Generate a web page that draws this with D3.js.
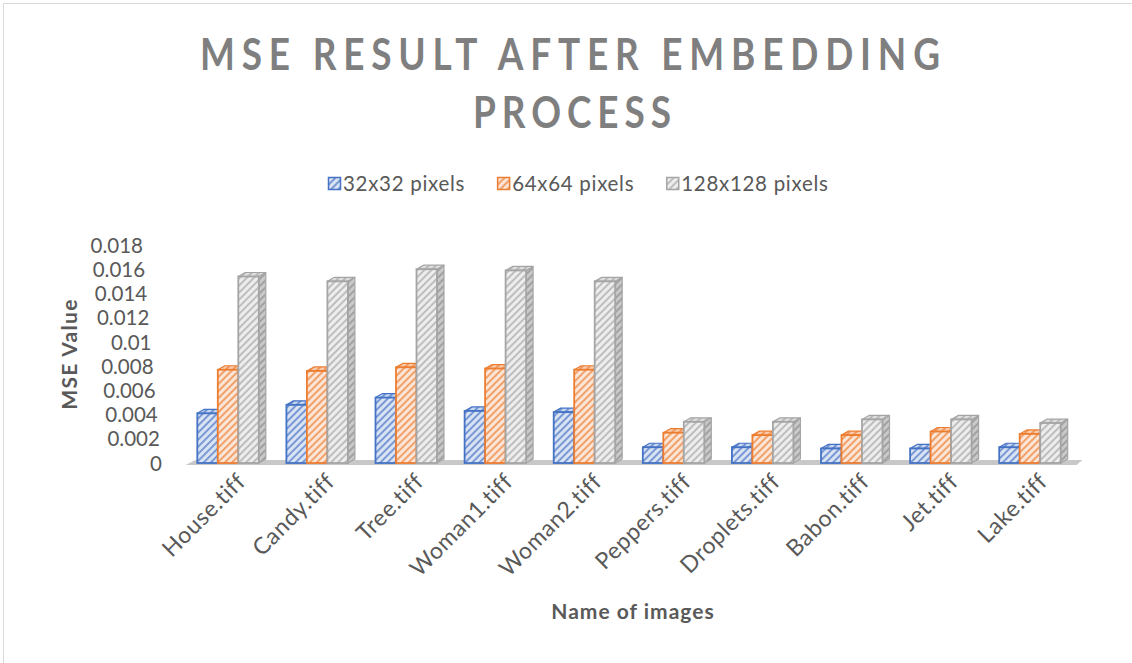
<!DOCTYPE html>
<html>
<head>
<meta charset="utf-8">
<script src="https://cdn.jsdelivr.net/npm/d3@7/dist/d3.min.js"></script>
<style>
  html, body { margin: 0; padding: 0; background: #ffffff; }
  svg { display: block; font-family: Lato, "Open Sans", sans-serif; }
</style>
</head>
<body>
<svg id="chart" width="1132" height="663"></svg>
<script>
// Image names along the category axis
const images = ["House.tiff", "Candy.tiff", "Tree.tiff", "Woman1.tiff", "Woman2.tiff",
                "Peppers.tiff", "Droplets.tiff", "Babon.tiff", "Jet.tiff", "Lake.tiff"];

// Series names
const seriesNames = ["32x32 pixels", "64x64 pixels", "128x128 pixels"];

// MSE values per payload size
const mse32  = [0.0041, 0.0048, 0.0054, 0.0043, 0.0042, 0.0013, 0.0013, 0.0012, 0.0012, 0.0013];
const mse64  = [0.0077, 0.0076, 0.0079, 0.0078, 0.0077, 0.0025, 0.0023, 0.0023, 0.0026, 0.0024];
const mse128 = [0.0154, 0.0150, 0.0160, 0.0159, 0.0150, 0.0034, 0.0034, 0.0036, 0.0036, 0.0033];

// Value axis ticks and their labels
const yTicks      = [0, 0.002, 0.004, 0.006, 0.008, 0.01, 0.012, 0.014, 0.016, 0.018];
const yTickLabels = ["0", "0.002", "0.004", "0.006", "0.008", "0.01", "0.012", "0.014", "0.016", "0.018"];

const titleLines = ["MSE RESULT AFTER EMBEDDING", "PROCESS"];
const yTitle = "MSE Value";
const xTitle = "Name of images";

// ---- styling ----
const palette = [
  { line: "#4472c4", bg: "#dae3f3", sideBg: "#9db4de", sideLine: "#2f5597", topBg: "#c9d7f0", topLine: "#4472c4" },
  { line: "#ed7d31", bg: "#fbe5d6", sideBg: "#f4b183", sideLine: "#c55a11", topBg: "#f8cbad", topLine: "#ed7d31" },
  { line: "#a5a5a5", bg: "#ededed", sideBg: "#c9c9c9", sideLine: "#8c8c8c", topBg: "#dedede", topLine: "#a5a5a5" }
];
const textColor = "#595959";

const svg = d3.select("#chart");
const W = 1132, H = 663;

// chart frame
svg.append("rect")
  .attr("x", 3.5).attr("y", 3.5).attr("width", W + 20).attr("height", H + 20)
  .attr("fill", "#ffffff").attr("stroke", "#d9d9d9").attr("stroke-width", 1);

// hatch patterns
const defs = svg.append("defs");
function hatch(id, bg, line, sw) {
  const p = defs.append("pattern")
    .attr("id", id)
    .attr("patternUnits", "userSpaceOnUse")
    .attr("width", 5).attr("height", 5)
    .attr("patternTransform", "rotate(45)");
  p.append("rect").attr("width", 5).attr("height", 5).attr("fill", bg);
  p.append("line").attr("x1", 1).attr("y1", 0).attr("x2", 1).attr("y2", 5)
    .attr("stroke", line).attr("stroke-width", sw);
}
palette.forEach((c, i) => {
  hatch("front" + i, c.bg, c.line, 1.3);
  hatch("side" + i, c.sideBg, c.sideLine, 1.3);
  hatch("top" + i, c.topBg, c.topLine, 1.3);
});

// ---- scales ----
const y = d3.scaleLinear().domain([0, 0.018]).range([463, 245]);
const x = d3.scaleBand().domain(images).range([183.5, 1074.5])
  .paddingInner(0.31).paddingOuter(0.155);
const xs = d3.scaleBand().domain(d3.range(seriesNames.length)).range([0, x.bandwidth()]);

// depth offset of the 3D boxes
const dx = 7, dy = -4;

// ---- floor ----
const base = y(0);
svg.append("polygon")
  .attr("points", [
    [x.range()[0] + 2, base + 2], [x.range()[1] + 2, base + 2],
    [x.range()[1] + 8, base - 3], [x.range()[0] + 12, base - 3]
  ].map(p => p.join(",")).join(" "))
  .attr("fill", "#c8c8c8");

// ---- bars ----
const seriesValues = [mse32, mse64, mse128];
const rows = [];
images.forEach((name, ci) => {
  seriesValues.forEach((vals, si) => rows.push({ name, si, v: vals[ci] }));
});

const bars = svg.append("g").selectAll("g.bar").data(rows).join("g").attr("class", "bar");

bars.each(function (d) {
  const g = d3.select(this);
  const x0 = x(d.name) + xs(d.si);
  const x1 = x0 + xs.bandwidth();
  const yt = y(d.v);
  const c = palette[d.si];
  // right side face
  g.append("polygon")
    .attr("points", [[x1, yt], [x1 + dx, yt + dy], [x1 + dx, base + dy], [x1, base]].map(p => p.join(",")).join(" "))
    .attr("fill", `url(#side${d.si})`).attr("stroke", c.line).attr("stroke-width", 1.2)
    .attr("stroke-linejoin", "round");
  // top face
  g.append("polygon")
    .attr("points", [[x0, yt], [x0 + dx, yt + dy], [x1 + dx, yt + dy], [x1, yt]].map(p => p.join(",")).join(" "))
    .attr("fill", `url(#top${d.si})`).attr("stroke", c.line).attr("stroke-width", 1.2)
    .attr("stroke-linejoin", "round");
  // front face
  g.append("rect")
    .attr("x", x0).attr("y", yt).attr("width", xs.bandwidth()).attr("height", base - yt)
    .attr("fill", `url(#front${d.si})`).attr("stroke", c.line).attr("stroke-width", 1.8);
});

// ---- value axis (labels drift right toward the floor) ----
const yAxis = d3.axisLeft(y)
  .tickValues(yTicks)
  .tickFormat((d, i) => yTickLabels[i])
  .tickSize(0);
const yAxisG = svg.append("g").call(yAxis);
yAxisG.select(".domain").remove();
yAxisG.selectAll("text")
  .attr("x", d => 143 + (y(d) - y(0.018)) * 19 / 218)
  .attr("dy", "0.35em")
  .attr("fill", textColor)
  .style("font-size", "20.5px")
  .style("font-family", "Lato, sans-serif");

// ---- category axis ----
const xAxis = d3.axisBottom(x).tickSize(0);
const xAxisG = svg.append("g").attr("transform", `translate(0,${base})`).call(xAxis);
xAxisG.select(".domain").remove();
xAxisG.selectAll("text")
  .attr("text-anchor", "end")
  .attr("fill", textColor)
  .style("font-size", "23px")
  .style("letter-spacing", "0.6px")
  .style("font-family", "Lato, sans-serif")
  .attr("y", 0).attr("dy", 0)
  .attr("transform", "translate(19,20) rotate(-45)");

// ---- titles (slightly condensed glyphs, spread out) ----
const sx = 0.86;
const title = svg.append("g").attr("fill", "#7f7f7f")
  .attr("transform", `translate(570,0) scale(${sx},1)`)
  .style("font-weight", "bold").style("font-size", "43px");
title.append("text").attr("x", 0).attr("y", 70).attr("text-anchor", "middle")
  .attr("textLength", 740 / sx).attr("lengthAdjust", "spacing").text(titleLines[0]);
title.append("text").attr("x", 2 / sx).attr("y", 128).attr("text-anchor", "middle")
  .attr("textLength", 198 / sx).attr("lengthAdjust", "spacing").text(titleLines[1]);

svg.append("text")
  .attr("transform", "translate(77,354) rotate(-90)")
  .attr("text-anchor", "middle")
  .attr("fill", textColor).style("font-weight", "bold").style("font-size", "21px")
  .style("letter-spacing", "1.3px")
  .text(yTitle);

svg.append("text")
  .attr("x", 633).attr("y", 619).attr("text-anchor", "middle")
  .attr("fill", textColor).style("font-weight", "bold").style("font-size", "21px")
  .style("letter-spacing", "1px")
  .text(xTitle);

// ---- legend ----
const legend = svg.append("g");
let lx = 328;
seriesNames.forEach((name, i) => {
  const item = legend.append("g").attr("transform", `translate(${lx},0)`);
  item.append("rect").attr("x", 0.5).attr("y", 177.5).attr("width", 12).attr("height", 12)
    .attr("fill", `url(#front${i})`).attr("stroke", palette[i].line).attr("stroke-width", 1.5);
  const t = item.append("text").attr("x", 15).attr("y", 190.5)
    .attr("fill", textColor).style("font-size", "20.5px").style("letter-spacing", "0.7px").text(name);
  lx += 15 + t.node().getComputedTextLength() + 32;
});
</script>
</body>
</html>
